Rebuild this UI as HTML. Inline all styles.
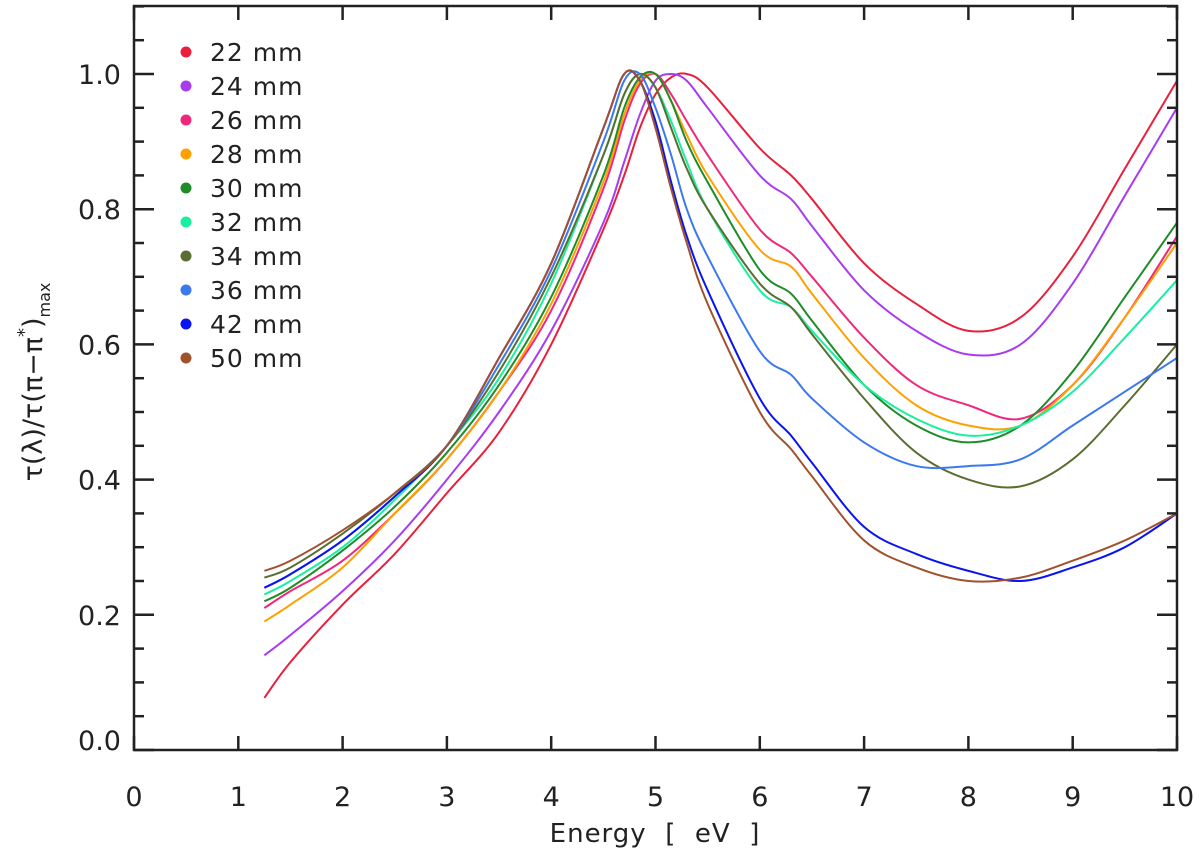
<!DOCTYPE html>
<html><head><meta charset="utf-8"><style>
html,body{margin:0;padding:0;background:#fff;}
svg{display:block;font-family:"DejaVu Sans","Liberation Sans",sans-serif;}
</style></head><body>
<svg id="chart" width="1200" height="860" xmlns="http://www.w3.org/2000/svg">
<g id="plot"></g>
<g id="axes"></g>
<g id="legend"></g>
<text x="655" y="842" font-size="26" text-anchor="middle" fill="#222" letter-spacing="1" xml:space="preserve">Energy  [  eV  ]</text>
<text transform="translate(42,382) rotate(-90)" font-size="27" text-anchor="middle" fill="#222">τ(λ)/τ(π−π<tspan font-size="18" dy="-12">*</tspan><tspan dy="12">)</tspan><tspan font-size="16" dy="8">max</tspan></text>
</svg>
<script>
const energies=[1.25,1.5,2,2.5,3,3.5,4,4.5,4.7,4.85,5,5.15,5.3,5.5,6,6.3,6.5,7,7.5,8,8.5,9,9.5,10];
const seriesNames=["22 mm","24 mm","26 mm","28 mm","30 mm","32 mm","34 mm","36 mm","42 mm","50 mm"];
const seriesColors=["#e8203c","#a83cf0","#f0287c","#ffa000","#1e8c28","#18f0a0","#5a6e32","#3c78f0","#0a14f0","#a0522d"];
const s22=[.077,.13,.215,.29,.38,.47,.60,.77,.85,.92,.97,.995,1.0,.98,.89,.85,.815,.72,.66,.62,.64,.73,.86,.99];
const s24=[.14,.17,.235,.31,.40,.50,.62,.78,.87,.94,.99,1.0,.99,.95,.85,.815,.775,.68,.62,.585,.60,.69,.82,.95];
const s26=[.21,.235,.28,.35,.43,.53,.65,.83,.93,.985,1.0,.97,.93,.88,.77,.735,.70,.61,.54,.51,.49,.54,.64,.76];
const s28=[.19,.215,.27,.35,.43,.53,.66,.84,.94,.99,1.0,.96,.91,.85,.74,.715,.675,.58,.51,.48,.48,.54,.64,.75];
const s30=[.22,.24,.295,.36,.44,.54,.67,.85,.95,.995,1.0,.96,.90,.84,.71,.675,.635,.54,.48,.455,.48,.56,.67,.78];
const s32=[.23,.25,.30,.37,.45,.55,.69,.88,.97,1.0,.98,.93,.87,.80,.68,.655,.62,.54,.49,.465,.48,.53,.61,.695];
const s34=[.255,.27,.32,.38,.45,.56,.70,.88,.97,1.0,.98,.92,.86,.80,.69,.655,.615,.52,.44,.40,.39,.43,.51,.60];
const s36=[.24,.26,.31,.375,.45,.57,.71,.90,.99,1.0,.95,.88,.80,.73,.59,.555,.52,.455,.42,.42,.43,.48,.53,.58];
const s42=[.24,.26,.31,.375,.45,.58,.72,.92,1.0,.99,.93,.84,.76,.68,.52,.465,.425,.33,.29,.265,.25,.27,.30,.35];
const s50=[.265,.28,.325,.38,.45,.58,.72,.92,1.0,.99,.92,.83,.75,.66,.50,.445,.405,.31,.27,.25,.255,.28,.31,.35];
const xTicks=[0,1,2,3,4,5,6,7,8,9,10];
const yTicks=[0,0.2,0.4,0.6,0.8,1.0];
const yTickLabels=["0.0","0.2","0.4","0.6","0.8","1.0"];

const NS="http://www.w3.org/2000/svg";
const X0=134,XS=104.3,Y0=750,YS=676;
function xs(e){return X0+e*XS;}
function ys(v){return Y0-v*YS;}
function mk(tag,attrs,parent){const el=document.createElementNS(NS,tag);for(const k in attrs)el.setAttribute(k,attrs[k]);parent.appendChild(el);return el;}
const plot=document.getElementById('plot'),axes=document.getElementById('axes'),legend=document.getElementById('legend');
const all=[s22,s24,s26,s28,s30,s32,s34,s36,s42,s50];
all.forEach((vals,i)=>{
  const pts=energies.map((e,j)=>[xs(e),ys(vals[j])]);
  let d="M"+pts[0][0]+","+pts[0][1];
  for(let j=0;j<pts.length-1;j++){
    const p0=pts[Math.max(0,j-1)],p1=pts[j],p2=pts[j+1],p3=pts[Math.min(pts.length-1,j+2)];
    const c1=[p1[0]+(p2[0]-p0[0])/6,p1[1]+(p2[1]-p0[1])/6];
    const c2=[p2[0]-(p3[0]-p1[0])/6,p2[1]-(p3[1]-p1[1])/6];
    d+=` C${c1[0]},${c1[1]} ${c2[0]},${c2[1]} ${p2[0]},${p2[1]}`;
  }
  const path=mk('path',{d:d,fill:'none',stroke:seriesColors[i],'stroke-width':2},plot);
  
  
  const ly=52+i*34;
  const dot=mk('circle',{cx:186,cy:ly,r:5.5,fill:seriesColors[i]},legend);
  
  
  const t=mk('text',{x:210,y:ly+9,'font-size':25,fill:'#222','xml:space':'preserve','letter-spacing':1},legend);
  t.textContent=seriesNames[i].replace(' ','  ');
  
  
});
const frame=mk('rect',{x:X0,y:6,width:1177-X0,height:Y0-6,fill:'none',stroke:'#222','stroke-width':2.5},axes);


xTicks.forEach(v=>{
  const x=xs(v);
  mk('line',{x1:x,y1:Y0,x2:x,y2:Y0-14,stroke:'#222','stroke-width':2.5},axes);
  mk('line',{x1:x,y1:6,x2:x,y2:20,stroke:'#222','stroke-width':2.5},axes);
  const t=mk('text',{x:x,y:806,'font-size':27,'text-anchor':'middle',fill:'#222'},axes);
  t.textContent=String(v);
  
  
});
for(let k=0;k<=22;k++){
  const v=k*0.05,y=ys(v);
  const major=(k%4===0);
  const len=major?20:10;
  mk('line',{x1:X0,y1:y,x2:X0+len,y2:y,stroke:'#222','stroke-width':2.5},axes);
  mk('line',{x1:1177,y1:y,x2:1177-len,y2:y,stroke:'#222','stroke-width':2.5},axes);
}
yTicks.forEach((v,i)=>{
  const t=mk('text',{x:121,y:ys(v),'font-size':27,'text-anchor':'end',fill:'#222'},axes);
  t.setAttribute('y',ys(v)+(i===0?0:10));
  t.textContent=yTickLabels[i];
  
  
});
</script>
</body></html>
